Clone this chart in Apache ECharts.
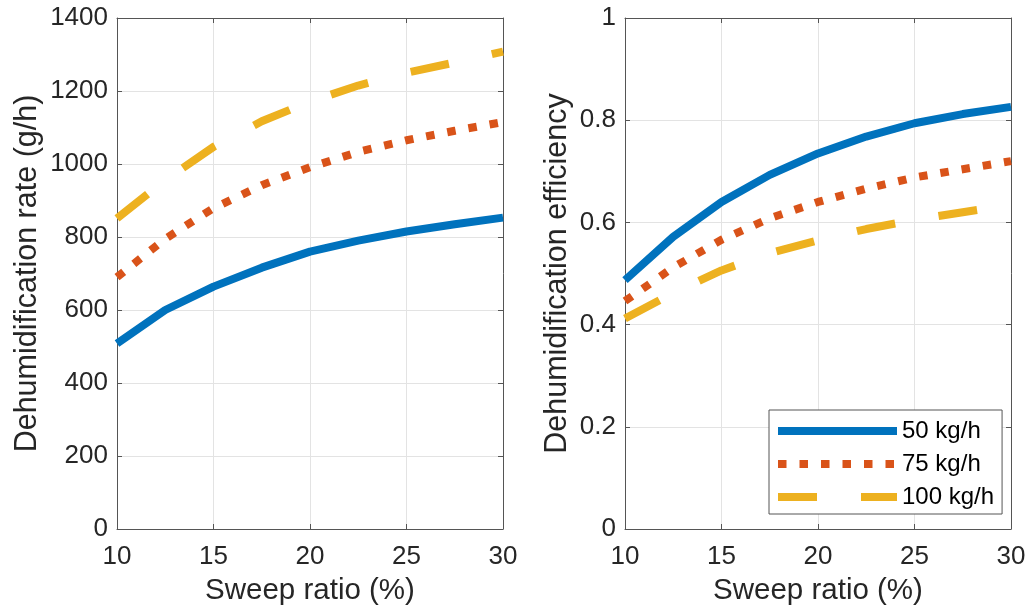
<!DOCTYPE html>
<html>
<head>
<meta charset="utf-8">
<title>Dehumidification vs sweep ratio</title>
<script src="https://cdn.jsdelivr.net/npm/echarts@6/dist/echarts.min.js"></script>
<style>
  html, body { margin: 0; padding: 0; background: #ffffff; }
  #chart { width: 1033px; height: 614px; }
</style>
</head>
<body>
<div id="chart"></div>
<script>
// Sweep ratio (%) at which each case was evaluated
const sweepRatio = [10, 12.5, 15, 17.5, 20, 22.5, 25, 27.5, 30];

// Process air flow cases
const seriesNames = ['50 kg/h', '75 kg/h', '100 kg/h'];

// Dehumidification rate (g/h)
const rate50 = [508, 600, 664, 716, 760, 790, 815, 835, 853];
const rate75 = [690, 795, 879, 942, 991, 1033, 1065, 1091, 1115];
const rate100 = [851, 956, 1047, 1117, 1171, 1215, 1250, 1278, 1308];

// Dehumidification efficiency (-)
const eff50 = [0.487, 0.572, 0.640, 0.693, 0.735, 0.768, 0.794, 0.812, 0.826];
const eff75 = [0.446, 0.512, 0.566, 0.608, 0.640, 0.666, 0.688, 0.704, 0.720];
const eff100 = [0.412, 0.462, 0.506, 0.540, 0.565, 0.587, 0.605, 0.620, 0.634];

// Axis ticks
const xTicks = { min: 10, max: 30, interval: 5 };
const rateTicks = { min: 0, max: 1400, interval: 200 };
const effTicks = { min: 0, max: 1, interval: 0.2 };

const FONT = '"Liberation Sans", Arial, Helvetica, sans-serif';
const TEXT = '#262626';
const FRAME = '#555555';
const GRID = '#e3e3e3';
const colors = ['#0072BD', '#D95319', '#EDB120'];
const lineTypes = ['solid', [8.5, 13], [39, 44]];
const LW = 8;

const pairs = (xs, ys) => xs.map((x, i) => [x, ys[i]]);

function mainX(gridIndex) {
  return {
    type: 'value', gridIndex, position: 'bottom',
    min: xTicks.min, max: xTicks.max, interval: xTicks.interval,
    name: 'Sweep ratio (%)', nameLocation: 'middle', nameGap: 47,
    nameTextStyle: { fontFamily: FONT, fontSize: 29.5, color: TEXT },
    axisLine: { show: true, onZero: false, lineStyle: { color: FRAME, width: 1 } },
    axisTick: { show: true, inside: true, length: 5, lineStyle: { color: FRAME, width: 1 } },
    axisLabel: { show: true, fontFamily: FONT, fontSize: 26, color: TEXT, margin: 15 },
    splitLine: { show: true, lineStyle: { color: GRID, width: 1 } }
  };
}
function topX(gridIndex) {
  return {
    type: 'value', gridIndex, position: 'top',
    min: xTicks.min, max: xTicks.max, interval: xTicks.interval,
    axisLine: { show: true, onZero: false, lineStyle: { color: FRAME, width: 1 } },
    axisTick: { show: true, inside: true, length: 5, lineStyle: { color: FRAME, width: 1 } },
    axisLabel: { show: false },
    splitLine: { show: false }
  };
}
function mainY(gridIndex, ticks, name, nameGap) {
  return {
    type: 'value', gridIndex, position: 'left',
    min: ticks.min, max: ticks.max, interval: ticks.interval,
    name, nameLocation: 'middle', nameGap,
    nameTextStyle: { fontFamily: FONT, fontSize: 30.5, color: TEXT },
    axisLine: { show: true, onZero: false, lineStyle: { color: FRAME, width: 1 } },
    axisTick: { show: true, inside: true, length: 5, lineStyle: { color: FRAME, width: 1 } },
    axisLabel: {
      show: true, fontFamily: FONT, fontSize: 26, color: TEXT, margin: 9,
      formatter: v => String(Math.round(v * 10) / 10)
    },
    splitLine: { show: true, lineStyle: { color: GRID, width: 1 } }
  };
}
function rightY(gridIndex, ticks) {
  return {
    type: 'value', gridIndex, position: 'right',
    min: ticks.min, max: ticks.max, interval: ticks.interval,
    axisLine: { show: true, onZero: false, lineStyle: { color: FRAME, width: 1 } },
    axisTick: { show: true, inside: true, length: 5, lineStyle: { color: FRAME, width: 1 } },
    axisLabel: { show: false },
    splitLine: { show: false }
  };
}

function curve(k, xAxisIndex, yAxisIndex, values) {
  return {
    name: seriesNames[k], type: 'line',
    xAxisIndex, yAxisIndex,
    data: pairs(sweepRatio, values),
    symbol: 'none', smooth: false,
    color: colors[k],
    lineStyle: { color: colors[k], width: LW, type: lineTypes[k], cap: 'butt', join: 'round' },
    z: 3
  };
}

const chart = echarts.init(document.getElementById('chart'), null, { renderer: 'canvas' });
chart.setOption({
  animation: false,
  backgroundColor: '#ffffff',
  textStyle: { fontFamily: FONT },
  grid: [
    { left: 117, top: 18, width: 386, height: 511 },
    { left: 625, top: 18, width: 386, height: 511 }
  ],
  xAxis: [mainX(0), topX(0), mainX(1), topX(1)],
  yAxis: [
    mainY(0, rateTicks, 'Dehumidification rate (g/h)', 74),
    rightY(0, rateTicks),
    mainY(1, effTicks, 'Dehumidification efficiency', 52),
    rightY(1, effTicks)
  ],
  legend: {
    data: seriesNames,
    orient: 'vertical',
    left: 769, top: 410,
    padding: [8, 8, 4, 5],
    itemWidth: 119, itemHeight: 26, itemGap: 7,
    backgroundColor: '#ffffff',
    borderColor: FRAME, borderWidth: 1,
    selectedMode: false,
    itemStyle: { opacity: 0 },
    lineStyle: { width: LW, cap: 'butt' },
    textStyle: { fontFamily: FONT, fontSize: 24, color: '#000000', lineHeight: 26 }
  },
  series: [
    curve(0, 0, 0, rate50),
    curve(1, 0, 0, rate75),
    curve(2, 0, 0, rate100),
    curve(0, 2, 2, eff50),
    curve(1, 2, 2, eff75),
    curve(2, 2, 2, eff100)
  ]
});
</script>
</body>
</html>
